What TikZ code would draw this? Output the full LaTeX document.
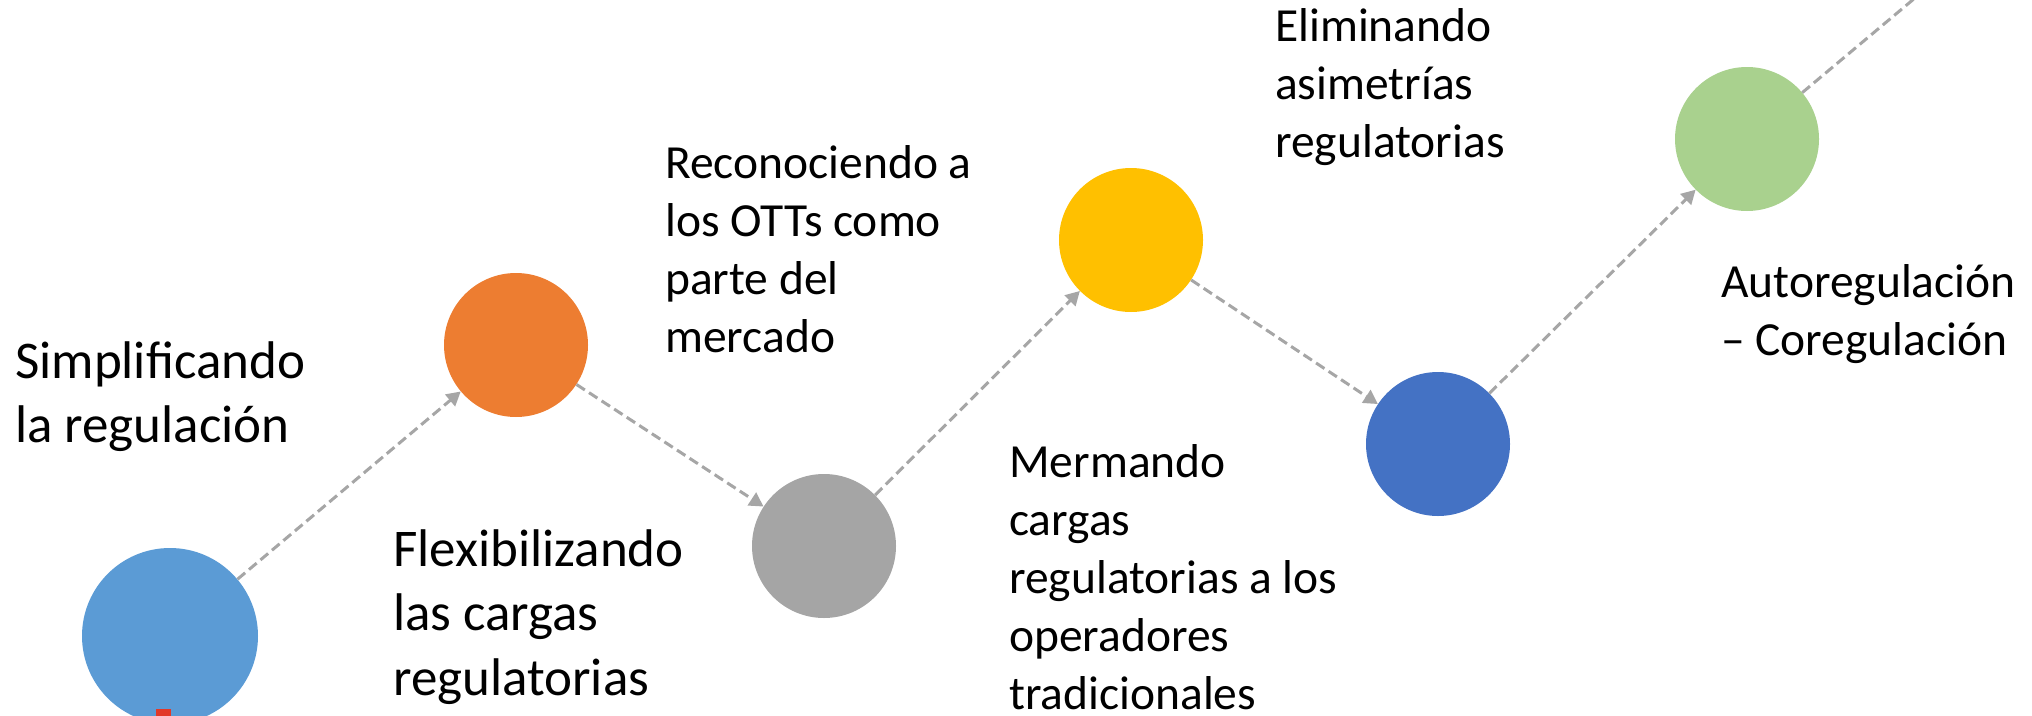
\documentclass[tikz,border=0pt]{standalone}
\usepackage{fontspec}
\setmainfont{Carlito}
\usetikzlibrary{arrows.meta}
\definecolor{cblue}{HTML}{5B9BD5}
\definecolor{corange}{HTML}{ED7D31}
\definecolor{cgray}{HTML}{A5A5A5}
\definecolor{cyellow}{HTML}{FFC000}
\definecolor{cdblue}{HTML}{4472C4}
\definecolor{cgreen}{HTML}{A9D18E}
\definecolor{carrow}{HTML}{A6A6A6}
\definecolor{cred}{RGB}{226,56,40}
\newcommand{\topstrut}{\rule{0pt}{45pt}}
\tikzset{
  dot/.style={circle, inner sep=0pt, minimum size=144pt, draw=none},
  bigdot/.style={dot, minimum size=176pt},
  conn/.style={draw=carrow, line width=3pt, dash pattern=on 10pt off 5pt,
    -{Triangle[length=14pt,width=15pt]}},
  bigtxt/.style={anchor=north west, inner sep=0pt, align=left,
    font=\fontsize{53}{64.5}\selectfont},
  smalltxt/.style={anchor=north west, inner sep=0pt, align=left,
    font=\fontsize{47.5}{58}\selectfont}
}
\begin{document}
\begin{tikzpicture}[x=1pt,y=-1pt]
\useasboundingbox (0,0) rectangle (2032,715);
\node[bigdot, fill=cblue] (c1) at (170,636) {};
\node[dot, fill=corange] (c2) at (516,345) {};
\node[dot, fill=cgray] (c3) at (824,546) {};
\node[dot, fill=cyellow] (c4) at (1131,240) {};
\node[dot, fill=cdblue] (c5) at (1438,444) {};
\node[dot, fill=cgreen] (c6) at (1747,139) {};
\coordinate (ext) at (1996,-70);
\fill[cred] (156,709) rectangle (171,722);
\draw[conn] (c1) -- (c2);
\draw[conn] (c2) -- (c3);
\draw[conn] (c3) -- (c4);
\draw[conn] (c4) -- (c5);
\draw[conn] (c5) -- (c6);
\draw[conn] (c6) -- (ext);
\node[bigtxt] (t1) at (15,333) {\topstrut Simplificando\\la regulación};
\node[bigtxt] (t2) at (393,521) {\topstrut Flexibilizando\\las cargas\\regulatorias};
\node[smalltxt] (t3) at (665,133) {\topstrut Reconociendo a\\los OTTs como\\parte del\\mercado};
\node[smalltxt] (t4) at (1275,-4) {\topstrut Eliminando\\asimetrías\\regulatorias};
\node[smalltxt] (t5) at (1009,432) {\topstrut Mermando\\cargas\\regulatorias a los\\operadores\\tradicionales};
\node[smalltxt] (t6) at (1721,252) {\topstrut Autoregulación\\– Coregulación};
\end{tikzpicture}
\end{document}
